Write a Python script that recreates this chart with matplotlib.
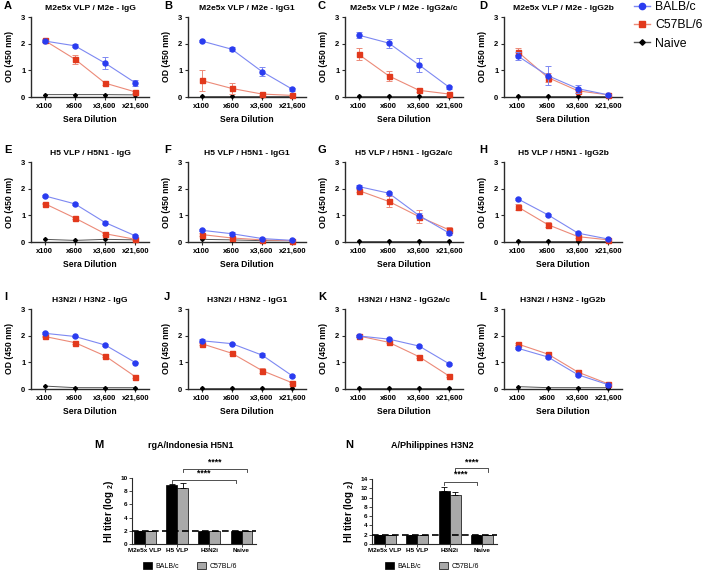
import matplotlib
matplotlib.use('Agg')
import matplotlib.pyplot as plt
from matplotlib.lines import Line2D
from matplotlib.patches import Patch

plt.rcParams['font.family'] = ['Liberation Sans', 'DejaVu Sans']
plt.rcParams['mathtext.fontset'] = 'custom'
plt.rcParams['mathtext.rm'] = 'Liberation Sans:bold'
plt.rcParams['mathtext.bf'] = 'Liberation Sans:bold'
plt.rcParams['mathtext.it'] = 'Liberation Sans:bold'

# ---------------- data ----------------
dilutions = ['x100', 'x600', 'x3,600', 'x21,600']
panel_letters = list('ABCDEFGHIJKL')
panel_titles = [
    'M2e5x VLP / M2e - IgG', 'M2e5x VLP / M2e - IgG1', 'M2e5x VLP / M2e - IgG2a/c', 'M2e5x VLP / M2e - IgG2b',
    'H5 VLP / H5N1 - IgG', 'H5 VLP / H5N1 - IgG1', 'H5 VLP / H5N1 - IgG2a/c', 'H5 VLP / H5N1 - IgG2b',
    'H3N2i / H3N2 - IgG', 'H3N2i / H3N2 - IgG1', 'H3N2i / H3N2 - IgG2a/c', 'H3N2i / H3N2 - IgG2b',
]
balb_means = [
    [2.10, 1.92, 1.27, 0.53], [2.10, 1.79, 0.95, 0.29], [2.32, 2.02, 1.20, 0.36], [1.54, 0.80, 0.31, 0.08],
    [1.73, 1.43, 0.73, 0.23], [0.44, 0.31, 0.13, 0.06], [2.08, 1.83, 0.99, 0.33], [1.62, 1.02, 0.33, 0.11],
    [2.09, 1.97, 1.65, 0.99], [1.81, 1.70, 1.27, 0.49], [1.99, 1.87, 1.61, 0.94], [1.53, 1.20, 0.53, 0.16],
]
balb_errs = [
    [0.05, 0.05, 0.22, 0.12], [0.03, 0.07, 0.18, 0.05], [0.10, 0.17, 0.28, 0.07], [0.15, 0.35, 0.15, 0.03],
    [0.03, 0.03, 0.07, 0.04], [0.03, 0.05, 0.03, 0.02], [0.05, 0.03, 0.08, 0.05], [0.04, 0.03, 0.03, 0.02],
    [0.03, 0.03, 0.03, 0.03], [0.05, 0.03, 0.07, 0.05], [0.03, 0.03, 0.03, 0.03], [0.03, 0.03, 0.03, 0.02],
]
c57_means = [
    [2.12, 1.42, 0.52, 0.19], [0.62, 0.32, 0.11, 0.06], [1.60, 0.79, 0.25, 0.11], [1.70, 0.73, 0.23, 0.08],
    [1.44, 0.90, 0.31, 0.10], [0.28, 0.15, 0.08, 0.05], [1.93, 1.52, 0.95, 0.45], [1.32, 0.65, 0.20, 0.08],
    [1.97, 1.74, 1.24, 0.46], [1.70, 1.34, 0.69, 0.23], [1.99, 1.75, 1.21, 0.48], [1.69, 1.31, 0.63, 0.19],
]
c57_errs = [
    [0.05, 0.17, 0.07, 0.05], [0.38, 0.22, 0.04, 0.03], [0.22, 0.20, 0.05, 0.03], [0.13, 0.18, 0.08, 0.03],
    [0.03, 0.03, 0.04, 0.02], [0.06, 0.04, 0.02, 0.02], [0.07, 0.20, 0.25, 0.13], [0.12, 0.10, 0.06, 0.03],
    [0.03, 0.04, 0.05, 0.05], [0.04, 0.04, 0.10, 0.05], [0.03, 0.04, 0.04, 0.04], [0.04, 0.04, 0.05, 0.03],
]
naive_means = [
    [0.09, 0.09, 0.09, 0.08], [0.04, 0.04, 0.04, 0.04], [0.04, 0.04, 0.04, 0.04], [0.04, 0.04, 0.04, 0.04],
    [0.10, 0.06, 0.10, 0.08], [0.10, 0.08, 0.05, 0.05], [0.05, 0.05, 0.05, 0.05], [0.05, 0.05, 0.05, 0.05],
    [0.11, 0.05, 0.05, 0.05], [0.05, 0.05, 0.05, 0.05], [0.05, 0.05, 0.05, 0.05], [0.09, 0.05, 0.05, 0.05],
]

hi_groups = ['M2e5x VLP', 'H5 VLP', 'H3N2i', 'Naive']
h5n1_balb = [2.0, 9.0, 2.0, 2.0]
h5n1_balb_err = [0.0, 0.05, 0.0, 0.0]
h5n1_c57 = [2.0, 8.55, 2.0, 2.0]
h5n1_c57_err = [0.0, 0.65, 0.0, 0.0]
h3n2_balb = [2.0, 2.0, 11.4, 2.0]
h3n2_balb_err = [0.0, 0.0, 0.8, 0.0]
h3n2_c57 = [2.0, 2.0, 10.55, 2.0]
h3n2_c57_err = [0.0, 0.0, 0.65, 0.0]
hi_detection_limit = 2.0

# ---------------- style ----------------
BLUE = '#2a3cf0'
BLUE_L = '#7d88f2'
RED = '#e2391c'
RED_L = '#ec8a78'
BLACK = '#000000'
GRAY_BAR = '#a9a9a9'
SPINE = '#2a2a2a'

W, H = 708, 571
fig = plt.figure(figsize=(W / 100, H / 100), dpi=100)


def box(l, t, r, b):
    return [l / W, 1 - b / H, (r - l) / W, (b - t) / H]


col_left = [31, 188, 345, 504]
col_w = 118
row_top = [17, 162, 309]
row_bot = [97, 242, 389]
letter_x = [4, 164, 318, 479]
letter_y = [6, 150, 297]

xs = list(range(len(dilutions)))
for i in range(12):
    r, c = divmod(i, 4)
    ax = fig.add_axes(box(col_left[c], row_top[r], col_left[c] + col_w, row_bot[r]))
    ax.plot(xs, naive_means[i], color='#555555', lw=0.7, marker='D', ms=2.0,
            mfc=BLACK, mec=BLACK, clip_on=False, zorder=3)
    ax.errorbar(xs, c57_means[i], yerr=c57_errs[i], color=RED_L, lw=0.8, ecolor=RED_L,
                elinewidth=0.7, capsize=2, capthick=0.7, marker='s', ms=3.6,
                mfc=RED, mec=RED, clip_on=False, zorder=4)
    ax.errorbar(xs, balb_means[i], yerr=balb_errs[i], color=BLUE_L, lw=0.8, ecolor=BLUE_L,
                elinewidth=0.7, capsize=2, capthick=0.7, marker='o', ms=3.6,
                mfc=BLUE, mec=BLUE, clip_on=False, zorder=5)
    ax.set_xlim(-0.45, 3.45)
    ax.set_ylim(0, 3)
    ax.set_yticks([0, 1, 2, 3])
    ax.set_xticks(xs)
    ax.set_xticklabels(dilutions)
    for s in ['top', 'right']:
        ax.spines[s].set_visible(False)
    for s in ['left', 'bottom']:
        ax.spines[s].set_color(SPINE)
        ax.spines[s].set_linewidth(1.0)
    ax.tick_params(length=2.5, width=0.8, color=SPINE, pad=1.5, labelsize=5.5)
    for lab in ax.get_xticklabels() + ax.get_yticklabels():
        lab.set_fontweight('bold')
    ax.set_xlabel('Sera Dilution', fontsize=6.2, fontweight='bold', labelpad=4)
    ax.set_ylabel('OD (450 nm)', fontsize=6.2, fontweight='bold', labelpad=5)
    ax.set_title(panel_titles[i], fontsize=6.1, fontweight='bold', pad=5)
    fig.text(letter_x[c] / W, 1 - letter_y[r] / H, panel_letters[i], fontsize=8,
             fontweight='bold', ha='left', va='center')

# legend for line plots
handles = [
    Line2D([], [], color=BLUE_L, lw=1.0, marker='o', ms=4.5, mfc=BLUE, mec=BLUE),
    Line2D([], [], color=RED_L, lw=1.0, marker='s', ms=4.5, mfc=RED, mec=RED),
    Line2D([], [], color='#555555', lw=1.0, marker='D', ms=2.8, mfc=BLACK, mec=BLACK),
]
fig.legend(handles, ['BALB/c', 'C57BL/6', 'Naive'], loc='upper left',
           bbox_to_anchor=(634 / W, 1 - 1 / H), frameon=False, fontsize=8.8,
           handlelength=1.3, handletextpad=0.45, labelspacing=0.52,
           borderaxespad=0, borderpad=0)


# ---------------- HI bar charts ----------------
def bracket(ax, x1, x2, y, yleg, txt, ytxt):
    ax.plot([x1, x1, x2, x2], [yleg, y, y, yleg], color='#333333', lw=0.6, clip_on=False)
    ax.text((x1 + x2) / 2, ytxt, txt, ha='center', va='center', fontsize=6.2,
            fontweight='bold', clip_on=False)


def hi_panel(rect, balb, balb_err, c57, c57_err, ymax, ystep, title, title_px, letter, letter_px):
    ax = fig.add_axes(rect)
    bw = 0.34
    g = list(range(len(hi_groups)))
    xb = [v - bw / 2 for v in g]
    xc = [v + bw / 2 for v in g]
    ax.bar(xb, balb, width=bw, color=BLACK, edgecolor=BLACK, lw=0.5, zorder=2)
    ax.bar(xc, c57, width=bw, color=GRAY_BAR, edgecolor=BLACK, lw=0.5, zorder=2)
    ax.errorbar(xb, balb, yerr=[[0] * 4, balb_err], fmt='none', ecolor=BLACK,
                elinewidth=0.6, capsize=2, capthick=0.6, zorder=3)
    ax.errorbar(xc, c57, yerr=[[0] * 4, c57_err], fmt='none', ecolor=BLACK,
                elinewidth=0.6, capsize=2, capthick=0.6, zorder=3)
    ax.axhline(hi_detection_limit, color=BLACK, lw=1.2, dashes=(4, 2), zorder=4)
    ax.set_xlim(-0.4, 3.45)
    ax.set_ylim(0, ymax)
    ax.set_yticks(list(range(0, ymax + 1, ystep)))
    ax.set_xticks(g)
    ax.set_xticklabels(hi_groups)
    for s in ['top', 'right']:
        ax.spines[s].set_visible(False)
    for s in ['left', 'bottom']:
        ax.spines[s].set_color(SPINE)
        ax.spines[s].set_linewidth(0.8)
    ax.tick_params(length=2, width=0.6, color=SPINE, pad=1.2, labelsize=4.6)
    for lab in ax.get_xticklabels() + ax.get_yticklabels():
        lab.set_fontweight('bold')
    ax.set_ylabel('HI titer (log $_{2}$)', fontsize=7, fontweight='bold', labelpad=3)
    fig.text(title_px[0] / W, 1 - title_px[1] / H, title, fontsize=6.5, fontweight='bold',
             ha='center', va='center')
    fig.text(letter_px[0] / W, 1 - letter_px[1] / H, letter, fontsize=8, fontweight='bold',
             ha='left', va='center')
    return ax, xb, xc


axM, xbM, xcM = hi_panel(box(132, 478, 256, 544), h5n1_balb, h5n1_balb_err, h5n1_c57, h5n1_c57_err,
                         10, 2, 'rgA/Indonesia H5N1', (191, 445), 'M', (94, 445))
bracket(axM, xbM[1], xbM[3], 9.75, 9.3, '****', 10.75)
bracket(axM, xcM[1], xcM[3], 11.4, 10.85, '****', 12.45)

axN, xbN, xcN = hi_panel(box(372, 479, 497, 544), h3n2_balb, h3n2_balb_err, h3n2_c57, h3n2_c57_err,
                         14, 2, 'A/Philippines H3N2', (432, 445), 'N', (345, 445))
bracket(axN, xbN[2], xbN[3], 13.4, 12.7, '****', 15.1)
bracket(axN, xcN[2], xcN[3], 16.4, 15.6, '****', 17.6)

bar_handles = [Patch(facecolor=BLACK, edgecolor=BLACK, lw=0.5),
               Patch(facecolor=GRAY_BAR, edgecolor=BLACK, lw=0.5)]
for cx in (190, 432):
    fig.legend(bar_handles, ['BALB/c', 'C57BL/6'], loc='center', ncol=2,
               bbox_to_anchor=(cx / W, 1 - 566 / H), frameon=False, fontsize=5,
               handlelength=1.3, handleheight=1.1, handletextpad=0.6, columnspacing=2.5,
               borderaxespad=0, borderpad=0)

fig.savefig('out.png', dpi=100)
